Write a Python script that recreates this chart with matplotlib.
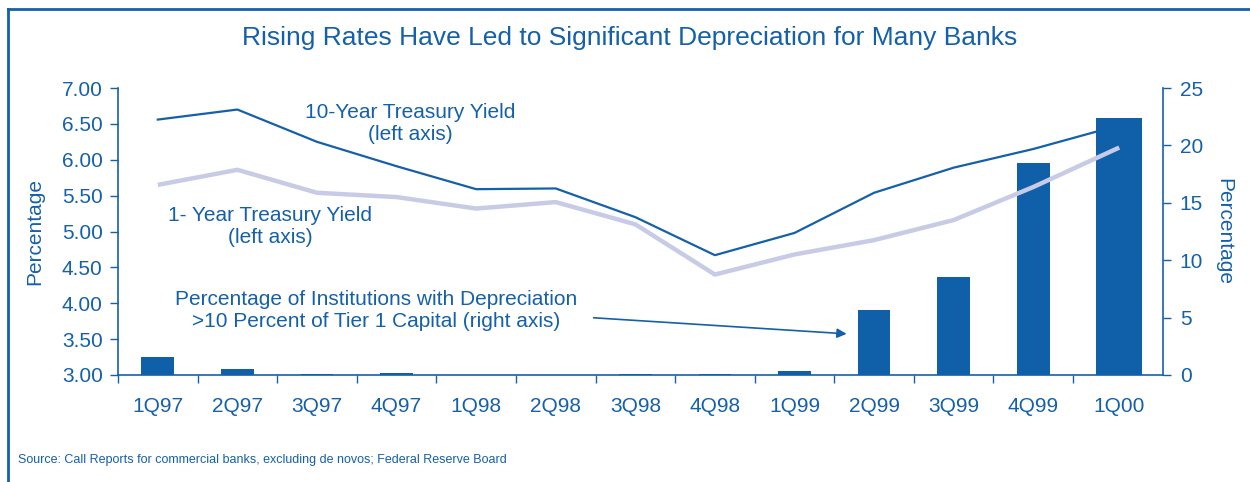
import numpy as np
import matplotlib
matplotlib.use('Agg')
import matplotlib.pyplot as plt
from matplotlib.lines import Line2D

plt.rcParams['font.family'] = ['Liberation Sans', 'DejaVu Sans']

quarters = ['1Q97', '2Q97', '3Q97', '4Q97', '1Q98', '2Q98', '3Q98',
            '4Q98', '1Q99', '2Q99', '3Q99', '4Q99', '1Q00']
ten_year = [6.56, 6.70, 6.25, 5.91, 5.59, 5.60, 5.20, 4.67, 4.98, 5.54, 5.89, 6.15, 6.48]
one_year = [5.65, 5.86, 5.54, 5.48, 5.32, 5.41, 5.10, 4.40, 4.68, 4.88, 5.16, 5.62, 6.17]
pct_depr = [1.55, 0.50, 0.08, 0.15, 0.0, 0.0, 0.08, 0.08, 0.38, 5.66, 8.57, 18.44, 22.36]

blue = '#1560aa'
bar_col = '#0f60a9'
light = '#c8cbe6'

# last quarter sits a little to the right and its bar is wider in the original
x = np.arange(len(quarters), dtype=float)
x[-1] += 0.08
widths = np.full(len(quarters), 0.41)
widths[-1] = 0.58

fig = plt.figure(figsize=(12.5, 4.82), dpi=100)
ax = fig.add_axes([0.0944, 0.222, 0.836, 0.5954])
ax2 = ax.twinx()

# 10-year under the bars, 1-year above them
ax.plot(x, ten_year, color=blue, lw=1.6, zorder=2)
ax2.bar(x, pct_depr, width=widths, color=bar_col, zorder=3)
ax2.plot(x, one_year, color=light, lw=3.2, transform=ax.transData, zorder=4,
         solid_capstyle='butt')

ax.set_xlim(-0.5, 12.63)
ax.set_ylim(3.0, 7.0)
ax2.set_ylim(0, 25)
ax.set_yticks(np.arange(3.0, 7.01, 0.5))
ax.set_yticklabels(['%.2f' % v for v in np.arange(3.0, 7.01, 0.5)])
ax2.set_yticks(range(0, 26, 5))

ax.set_xticks(x)
ax.set_xticklabels(quarters)
ax.set_xticks(np.arange(-0.5, 12, 1.0), minor=True)
ax.tick_params(axis='x', which='major', length=0, pad=16, labelsize=15, labelcolor=blue)
ax.tick_params(axis='x', which='minor', length=6, width=1, color=blue, direction='out')
ax.tick_params(axis='y', length=6, width=1, color=blue, labelsize=15, labelcolor=blue, pad=5)
ax2.tick_params(axis='y', length=6, width=1, color=blue, labelsize=15, labelcolor=blue, pad=6)

for a in (ax, ax2):
    for s in a.spines.values():
        s.set_visible(False)
ax.spines['left'].set_visible(True)
ax.spines['bottom'].set_visible(True)
ax2.spines['right'].set_visible(True)
for s in (ax.spines['left'], ax.spines['bottom'], ax2.spines['right']):
    s.set_color(blue)
    s.set_linewidth(1.2)
ax.spines['left'].set_bounds(3.0, 7.0)

ax.set_ylabel('Percentage', color=blue, fontsize=15, labelpad=13)
ax2.set_ylabel('Percentage', color=blue, fontsize=15, rotation=-90, labelpad=22)

fig.text(0.504, 0.922, 'Rising Rates Have Led to Significant Depreciation for Many Banks',
         ha='center', va='center', color=blue, fontsize=19)

ax.text(0.280, 0.876, '10-Year Treasury Yield\n(left axis)', transform=ax.transAxes,
        ha='center', va='center', color=blue, fontsize=15, linespacing=1.2)
ax.text(0.1455, 0.517, '1- Year Treasury Yield\n(left axis)', transform=ax.transAxes,
        ha='center', va='center', color=blue, fontsize=15, linespacing=1.2)
ax.text(0.247, 0.226, 'Percentage of Institutions with Depreciation\n>10 Percent of Tier 1 Capital (right axis)',
        transform=ax.transAxes, ha='center', va='center', color=blue, fontsize=15, linespacing=1.2)
ax2.annotate('', xy=(x[9] - 0.31, 3.57), xycoords='data',
             xytext=(0.4525, 0.2), textcoords='axes fraction',
             arrowprops=dict(arrowstyle='-|>', color=blue, lw=1.2, mutation_scale=14))

fig.text(0.0144, 0.046, 'Source: Call Reports for commercial banks, excluding de novos; Federal Reserve Board',
         ha='left', va='center', color=blue, fontsize=9)

# frame: top and left edges
fig.add_artist(Line2D([0.0064, 1.0], [0.981, 0.981], transform=fig.transFigure, color=blue, lw=2))
fig.add_artist(Line2D([0.0064, 0.0064], [0.0, 0.981], transform=fig.transFigure, color=blue, lw=2))

fig.savefig('out.png', dpi=100)
